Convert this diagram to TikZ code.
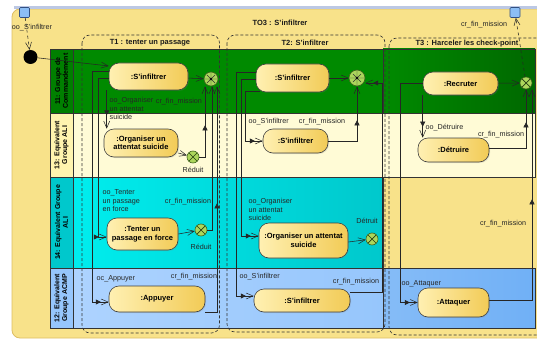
\documentclass[tikz,border=0pt]{standalone}
\usepackage{fontspec}
\setmainfont{Liberation Sans}
\usetikzlibrary{arrows.meta,decorations.markings,shadows}

\definecolor{frameyellow}{RGB}{248,226,138}
\definecolor{frameedge}{RGB}{222,190,100}
\definecolor{bandblue}{RGB}{188,200,228}
\definecolor{greenA}{RGB}{0,138,0}
\definecolor{greenB}{RGB}{0,104,0}
\definecolor{creamlane}{RGB}{255,251,214}
\definecolor{creamhead}{RGB}{255,244,175}
\definecolor{cyanA}{RGB}{0,240,240}
\definecolor{cyanB}{RGB}{0,200,204}
\definecolor{blueA}{RGB}{175,212,255}
\definecolor{blueB}{RGB}{150,198,252}
\definecolor{blueC}{RGB}{112,176,246}
\definecolor{actlight}{RGB}{255,240,178}
\definecolor{actdark}{RGB}{242,203,86}
\definecolor{finfill}{RGB}{172,214,92}
\definecolor{finedge}{RGB}{62,100,28}
\definecolor{pinfill}{RGB}{140,190,245}
\definecolor{pinedge}{RGB}{50,80,130}

\newcommand\actfont{\bfseries\fontsize{7.5}{8.6}\selectfont}
\newcommand\lblfont{\fontsize{7.2}{8.4}\selectfont}
\newcommand\ttlfont{\bfseries\fontsize{7.5}{8.6}\selectfont}

\tikzset{
  lanebd/.style={draw=black!80, line width=0.6pt},
  act/.style={draw=black!75, line width=0.6pt, rounded corners=10pt,
    left color=actlight, right color=actdark, align=center, font=\actfont,
    inner sep=1pt, drop shadow={opacity=0.2, shadow xshift=1pt, shadow yshift=-1pt}},
  flowfin/.style={circle, draw=finedge, fill=finfill, line width=0.6pt,
    minimum size=12pt, inner sep=0pt,
    path picture={\draw[finedge!60!black, line width=0.7pt]
      (path picture bounding box.north west) -- (path picture bounding box.south east)
      (path picture bounding box.north east) -- (path picture bounding box.south west);}},
  joinfin/.style={circle, draw=finedge, fill=finfill, line width=0.6pt,
    minimum size=#1, inner sep=0pt,
    path picture={\draw[black!80, line width=0.45pt]
      (path picture bounding box.north) -- (path picture bounding box.south)
      (path picture bounding box.east) -- (path picture bounding box.west)
      ([shift={(-4pt,4pt)}]path picture bounding box.center) -- ([shift={(4pt,-4pt)}]path picture bounding box.center)
      ([shift={(4pt,4pt)}]path picture bounding box.center) -- ([shift={(-4pt,-4pt)}]path picture bounding box.center);
      \fill[black] (path picture bounding box.center) circle (1.1pt);}},
  initnode/.style={circle, fill=black, minimum size=14pt, inner sep=0pt},
  pinsq/.style={draw=pinedge, fill=pinfill, minimum size=10pt, inner sep=0pt,
    rounded corners=1pt, line width=0.6pt},
  flow/.style={draw=black!85, line width=0.55pt,
    -{Straight Barb[length=7pt,width=6pt,line width=0.5pt]}},
  pinflow/.style={draw=black!85, line width=0.55pt,
    -{Triangle[length=5pt,width=5pt] Straight Barb[length=7pt,width=6pt,line width=0.5pt]}},
  pinmark/.style={postaction={decorate,decoration={markings,
    mark=at position #1 with {\arrow{Triangle[length=5pt,width=5pt]}}}}},
  lbl/.style={font=\lblfont, inner sep=0.5pt, align=left, text=black!85},
  ttl/.style={font=\ttlfont, inner sep=0.5pt, text=black!90},
  hdr/.style={font=\bfseries\fontsize{7}{7.8}\selectfont, rotate=90, align=center, inner sep=0pt},
  taskframe/.style={draw=black!80, line width=0.6pt, dash pattern=on 3pt off 2pt, rounded corners=8pt},
}

\begin{document}
\begin{tikzpicture}[x=1pt,y=-1pt]
\useasboundingbox (0,0) rectangle (537,342);
\fill[white] (0,0) rectangle (537,342);

% activity frame
\draw[frameedge, fill=frameyellow, line width=0.8pt, rounded corners=8pt] (12,9) rectangle (560,338);
\fill[bandblue] (14,6.5) rectangle (537,9.5);
\node[ttl] (title) at (280,23) {TO3 : S'infiltrer};

% swimlanes
\draw[lanebd, fill=greenA] (50,49) rectangle (383,113);
\draw[lanebd, left color=greenA, right color=greenB] (383,49) rectangle (535,113);
\draw[lanebd, fill=greenA!92!black] (50,49) rectangle (73,113);
\draw[lanebd, fill=creamlane] (50,113) rectangle (535,177);
\draw[lanebd, fill=creamhead] (50,113) rectangle (73,177);
\draw[lanebd, left color=cyanA, right color=cyanB] (50,177) rectangle (383,268);
\draw[lanebd, fill=cyanB] (50,177) rectangle (73,268);
\draw[lanebd, left color=blueA, right color=blueB] (50,268) rectangle (383,328);
\draw[lanebd, left color=blueC!85!white, right color=blueC] (383,268) rectangle (535,328);
\draw[lanebd, fill=blueB] (50,268) rectangle (73,328);

\node[hdr] (h1) at (61.5,81) {11: Groupe de\\Commandement};
\node[hdr] (h2) at (61.5,145) {13: Equivalent\\Groupe ALI};
\node[hdr] (h3) at (61.5,222.5) {14: Equivalent Groupe\\ALI};
\node[hdr] (h4) at (61.5,298) {12: Equivalent\\Groupe ACMP};

% task frames
\draw[taskframe] (82,35) rectangle (219.5,333);
\draw[taskframe] (227,35) rectangle (385,332);
\draw[taskframe] (389,38) rectangle (560,335);
\node[ttl] (t1) at (150,43) {T1 : tenter un passage};
\node[ttl] (t2) at (305,43) {T2: S'infiltrer};
\node[ttl] (t3) at (467,44) {T3 : Harceler les check-point};

% parameter pins and initial node
\node[pinsq] (pin0) at (24.5,12.5) {};
\node[pinsq] (pinE) at (515,12.5) {};
\node[initnode] (i0) at (30.5,57) {};

% actions
\node[act, minimum width=79pt, minimum height=27pt] (a1) at (148.5,76.5) {:S'infiltrer};
\node[act, minimum width=73pt, minimum height=28pt] (b1) at (292.5,78) {:S'infiltrer};
\node[act, minimum width=75pt, minimum height=23pt] (c1) at (460.5,83.5) {:Recruter};
\node[act, minimum width=74pt, minimum height=28pt] (a2) at (141,143) {:Organiser un\\attentat suicide};
\node[act, minimum width=65pt, minimum height=24pt] (b2) at (295.5,141) {:S'infiltrer};
\node[act, minimum width=71pt, minimum height=24pt] (c2) at (453.5,150) {:Détruire};
\node[act, minimum width=71pt, minimum height=32pt] (a3) at (142.5,234) {:Tenter un\\passage en force};
\node[act, minimum width=89pt, minimum height=35pt] (b3) at (303.5,240.5) {:Organiser un attentat\\suicide};
\node[act, minimum width=96pt, minimum height=26pt] (a4) at (157,299) {:Appuyer};
\node[act, minimum width=96pt, minimum height=23pt] (b4) at (302,300.5) {:S'infiltrer};
\node[act, minimum width=71pt, minimum height=29pt] (c4) at (453.5,302.5) {:Attaquer};

% final nodes
\node[joinfin=14pt] (ja) at (211,79) {};
\node[joinfin=16pt] (jb) at (357,78) {};
\node[flowfin] (fa2) at (193,157) {};
\node[flowfin] (fa3) at (201,230) {};
\node[flowfin] (fb3) at (372,239) {};
\node[flowfin] (fc1) at (526,83) {};

% parameter flows
\draw[flow, dashed] (pin0) -- (i0);
\draw[flow, dashed] (fc1) -- (pinE);
\node[lbl] at (32,28) {oo\_S'infiltrer};
\node[lbl] at (484,25) {cr\_fin\_mission};

% T1 flows
\draw[flow] (i0) -- ([yshift=10.5pt]a1.west);
\draw[flow] (a1) -- (ja);
\draw[pinflow] ([yshift=5.5pt]a1.west) -- ++(-16,0) |- ([yshift=-3pt]a4.west);
\draw[pinflow] ([yshift=-1.5pt]a1.west) -- ++(-10,0) |- ([yshift=-3pt]a3.west);
\draw[flow, pinmark=25pt] ([xshift=-2pt]a1.south west) -- ([xshift=3pt]a2.north west);
\draw[flow] ([yshift=-10pt]a2.east) -- (fa2);
\draw[flow, pinmark=-39pt] (fa2) -| ([xshift=-6pt]ja.south);
\draw[flow] (a3.east) -- (fa3);
\draw[flow] (fa3) -| ([xshift=1pt]ja.south);
\draw[flow, pinmark=-117pt] ([yshift=-13pt]a4.east) -| ([xshift=6pt]ja.south);
\node[lbl, anchor=north west] at (109,97) {oo\_Organiser\\un attentat\\suicide};
\node[lbl] at (179,102) {cr\_fin\_mission};
\node[lbl] at (193,170) {Réduit};
\node[lbl, anchor=north west] at (102,189) {oo\_Tenter\\un passage\\en force};
\node[lbl] at (188,202) {cr\_fin\_mission};
\node[lbl] at (201,247) {Réduit};
\node[lbl, anchor=west] at (96,279) {oc\_Appuyer};
\node[lbl] at (194,277) {cr\_fin\_mission};

% T2 flows
\draw[flow] (b1) -- (jb);
\draw[pinflow] ([yshift=6pt]b1.west) -- ++(-19,0) |- ([yshift=4.5pt]b4.west);
\draw[pinflow] ([yshift=-1pt]b1.west) -- ++(-14,0) |- ([yshift=4.5pt]b3.west);
\draw[pinflow] ([xshift=4pt,yshift=1pt]b1.south west) -- ++(-14,0) |- (b2.west);
\draw[flow, pinmark=-34pt] (b2.east) -| (jb.south);
\draw[flow] ([yshift=-1.5pt]b3.east) -- (fb3);
\draw[pinflow] ([yshift=8.5pt]b4.east) -| ([xshift=17pt,yshift=-5pt]jb.east) -- ([yshift=-5pt]jb.east);
\node[lbl, anchor=west] at (248,122) {oo\_S'infiltrer};
\node[lbl] at (322,122) {cr\_fin\_mission};
\node[lbl, anchor=north west] at (248,198) {oo\_Organiser\\un attentat\\suicide};
\node[lbl] at (367,221) {Détruit};
\node[lbl, anchor=west] at (239,277) {oo\_S'infiltrer};
\node[lbl] at (356,282) {cr\_fin\_mission};

% T3 flows
\draw[flow] (c1) -- (fc1);
\draw[pinflow] (c1.west) -- ++(-22,0) |- (c4.west);
\draw[flow, pinmark=-11pt] (c1.south west) -- ([xshift=5pt]c2.north west);
\draw[flow, pinmark=-33pt] ([yshift=2pt]c2.east) -| (fc1.south);
\draw[flow, pinmark=-110pt] ([yshift=2pt]c4.east) -| ([xshift=6pt]fc1.south);
\node[lbl, anchor=west] at (425,128) {oo\_Détruire};
\node[lbl] at (501,135) {cr\_fin\_mission};
\node[lbl] at (503,224) {cr\_fin\_mission};
\node[lbl, anchor=west] at (401,284) {oo\_Attaquer};
\end{tikzpicture}
\end{document}
